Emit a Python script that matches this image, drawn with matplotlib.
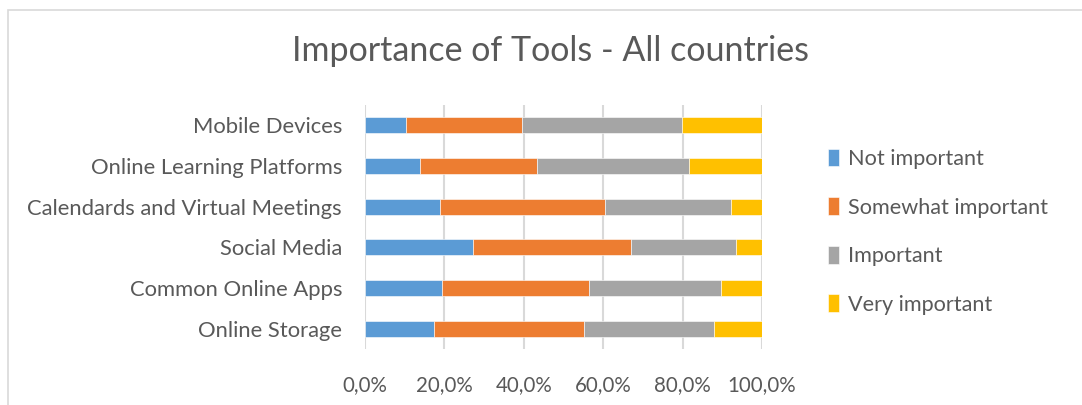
import matplotlib
matplotlib.use("Agg")
import matplotlib.pyplot as plt
from matplotlib.patches import Rectangle
import numpy as np

categories = ["Mobile Devices", "Online Learning Platforms", "Calendards and Virtual Meetings",
              "Social Media", "Common Online Apps", "Online Storage"]
series_names = ["Not important", "Somewhat important", "Important", "Very important"]
not_important = [10.4, 13.9, 19.0, 27.1, 19.4, 17.4]
somewhat_important = [29.2, 29.5, 41.4, 39.8, 36.9, 37.7]
important = [40.2, 38.3, 31.9, 26.5, 33.3, 32.7]
very_important = [20.2, 18.3, 7.7, 6.6, 10.4, 12.2]
x_ticks = [0, 20, 40, 60, 80, 100]
x_tick_labels = ["0,0%", "20,0%", "40,0%", "60,0%", "80,0%", "100,0%"]

colors = ["#5B9BD5", "#ED7D31", "#A5A5A5", "#FFC000"]
text_color = "#595959"
font = "Lato"

W, H = 1082, 405
fig = plt.figure(figsize=(W / 100, H / 100), dpi=100)

# chart frame
fig.patches.append(Rectangle((8 / W, -0.1), 1.2, (H - 10) / H + 0.1, transform=fig.transFigure,
                             fill=False, edgecolor="#D9D9D9", linewidth=1.2))

ax = fig.add_axes([365 / W, 1 - 349 / H, (762 - 365) / W, (349 - 105) / H])
y = np.arange(len(categories))
left = np.zeros(len(categories))
for vals, name, c in zip([not_important, somewhat_important, important, very_important], series_names, colors):
    ax.barh(y, vals, left=left, height=0.4, color=c, label=name, edgecolor="white", linewidth=0.4, zorder=3)
    left += np.array(vals)

ax.set_ylim(len(categories) - 0.5, -0.5)
ax.set_xlim(0, 100)
ax.set_xticks(x_ticks)
ax.set_xticklabels(x_tick_labels, fontsize=14.8, color=text_color, family=font)
ax.set_yticks(y)
ax.set_yticklabels(categories, fontsize=15.8, color=text_color, family=font)
ax.tick_params(axis="both", length=0)
ax.tick_params(axis="x", pad=19)
ax.tick_params(axis="y", pad=16.5)
ax.grid(axis="x", color="#D9D9D9", linewidth=1.5, zorder=0)
for s in ax.spines.values():
    s.set_visible(False)

fig.text(550 / W, 1 - 51 / H, "Importance of Tools - All countries", ha="center", va="center",
         fontsize=24.5, color=text_color, family=font)

leg = fig.legend(loc="upper left", bbox_to_anchor=(808 / W, 1 - 129 / H), frameon=False,
                 prop={"family": font, "size": 15.6}, labelcolor=text_color,
                 handlelength=0.55, handleheight=0.9, handletextpad=0.4, labelspacing=1.3)

fig.savefig("out.png", dpi=100)
